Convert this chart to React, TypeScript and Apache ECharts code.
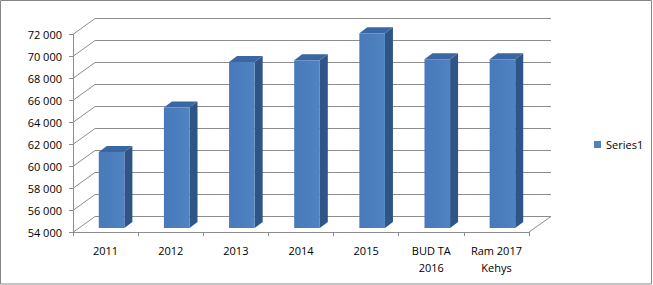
import React, { useEffect, useRef } from "react";
import * as echarts from "echarts";

const categories = ["2011", "2012", "2013", "2014", "2015", "BUD TA\n2016", "Ram 2017\nKehys"];
const values = [60900, 64950, 69100, 69250, 71700, 69350, 69350];
const seriesName = "Series1";
const yTicks = [54000, 56000, 58000, 60000, 62000, 64000, 66000, 68000, 70000, 72000];
const yMin = 54000;
const yMax = 72000;
const yInterval = 2000;

const DX = 22; // depth of the 3D walls
const DY = -16.5;
const BAR_OX = 6; // bar front-face offset into depth
const BAR_OY = -4;
const BAR_DX = 8; // bar depth
const BAR_DY = -6;
const GRID_COLOR = "#8c8c8c";
const FONT = "'Open Sans', 'DejaVu Sans', sans-serif";

const fmt = (v: number) => String(v).replace(/\B(?=(\d{3})+(?!\d))/g, " ");

export default function App() {
  const ref = useRef<HTMLDivElement>(null);
  useEffect(() => {
    if (!ref.current) return;
    const chart = echarts.init(ref.current, undefined, { renderer: "svg" });
    chart.setOption({
      animation: false,
      backgroundColor: "#ffffff",
      textStyle: { fontFamily: FONT },
      grid: { left: 73, right: 124, top: 34, bottom: 53 },
      legend: {
        data: [{ name: seriesName, icon: "rect" }],
        orient: "vertical",
        left: 589,
        top: 134,
        itemWidth: 7,
        itemHeight: 7,
        selectedMode: false,
        textStyle: { fontFamily: FONT, fontSize: 11, color: "#000" },
      },
      xAxis: {
        type: "category",
        data: categories,
        boundaryGap: true,
        axisLine: { show: true, lineStyle: { color: GRID_COLOR, width: 1 } },
        axisTick: { show: true, length: 4, lineStyle: { color: GRID_COLOR } },
        axisLabel: {
          fontFamily: FONT,
          fontSize: 11,
          color: "#000",
          margin: 10,
          lineHeight: 17,
          interval: 0,
        },
        splitLine: { show: false },
      },
      yAxis: {
        type: "value",
        min: yMin,
        max: yMax,
        interval: yInterval,
        axisLine: { show: true, lineStyle: { color: GRID_COLOR, width: 1 } },
        axisTick: { show: true, length: 4, lineStyle: { color: GRID_COLOR } },
        axisLabel: {
          fontFamily: FONT,
          fontSize: 11,
          color: "#000",
          margin: 11,
          formatter: (v: number) => fmt(v),
        },
        splitLine: { show: false },
      },
      graphic: [
        {
          type: "rect",
          shape: { x: 0.5, y: 0.5, width: 651, height: 283.5 },
          style: { fill: "none", stroke: "#868686", lineWidth: 1 },
          silent: true,
          z: 100,
        },
      ],
      series: [
        {
          name: "walls",
          type: "custom",
          silent: true,
          z: 1,
          encode: { x: 0, y: 1 },
          data: yTicks.map((v) => [0, v]),
          renderItem: (params: any, api: any) => {
            const cs = params.coordSys;
            const p = api.coord([0, api.value(1)]);
            const y = p[1];
            const x0 = cs.x;
            const x1 = cs.x + cs.width;
            const yb = Math.round(y + DY) + 0.5;
            const children: any[] = [
              {
                type: "line",
                shape: { x1: x0 + 0.5, y1: y, x2: x0 + DX, y2: yb },
                style: { stroke: GRID_COLOR, lineWidth: 1 },
              },
              {
                type: "line",
                shape: { x1: x0 + DX, y1: yb, x2: x1 + DX, y2: yb },
                style: { stroke: GRID_COLOR, lineWidth: 1 },
              },
            ];
            if (api.value(1) === yMin) {
              children.push({
                type: "line",
                shape: { x1: x1, y1: y, x2: x1 + DX, y2: yb },
                style: { stroke: GRID_COLOR, lineWidth: 1 },
              });
            }
            return { type: "group", children };
          },
        },
        {
          name: seriesName,
          type: "custom",
          silent: true,
          z: 2,
          itemStyle: { color: "#4f81bd" },
          encode: { x: 0, y: 1 },
          data: values.map((v, i) => [i, v]),
          renderItem: (params: any, api: any) => {
            const top = api.coord([api.value(0), api.value(1)]);
            const base = api.coord([api.value(0), yMin]);
            const w = api.size([1, 0])[0] * 0.393;
            const L = top[0] - w / 2 + BAR_OX;
            const R = L + w;
            const T = top[1] + BAR_OY;
            const B = base[1] + BAR_OY;
            return {
              type: "group",
              children: [
                {
                  type: "polygon",
                  shape: {
                    points: [
                      [R, T],
                      [R + BAR_DX, T + BAR_DY],
                      [R + BAR_DX, B + BAR_DY],
                      [R, B],
                    ],
                  },
                  style: { fill: "#2f5486" },
                },
                {
                  type: "polygon",
                  shape: {
                    points: [
                      [L, T],
                      [L + BAR_DX, T + BAR_DY],
                      [R + BAR_DX, T + BAR_DY],
                      [R, T],
                    ],
                  },
                  style: { fill: "#3a67a4" },
                },
                {
                  type: "rect",
                  shape: { x: L, y: T, width: w, height: B - T },
                  style: {
                    fill: new echarts.graphic.LinearGradient(0, 0, 1, 0, [
                      { offset: 0, color: "#4879ba" },
                      { offset: 1, color: "#5083c2" },
                    ]),
                  },
                },
              ],
            };
          },
        },
      ],
    });
    return () => chart.dispose();
  }, []);
  return (
    <div
      ref={ref}
      style={{ position: "absolute", left: 0, top: 0, width: 653, height: 285 }}
    />
  );
}
